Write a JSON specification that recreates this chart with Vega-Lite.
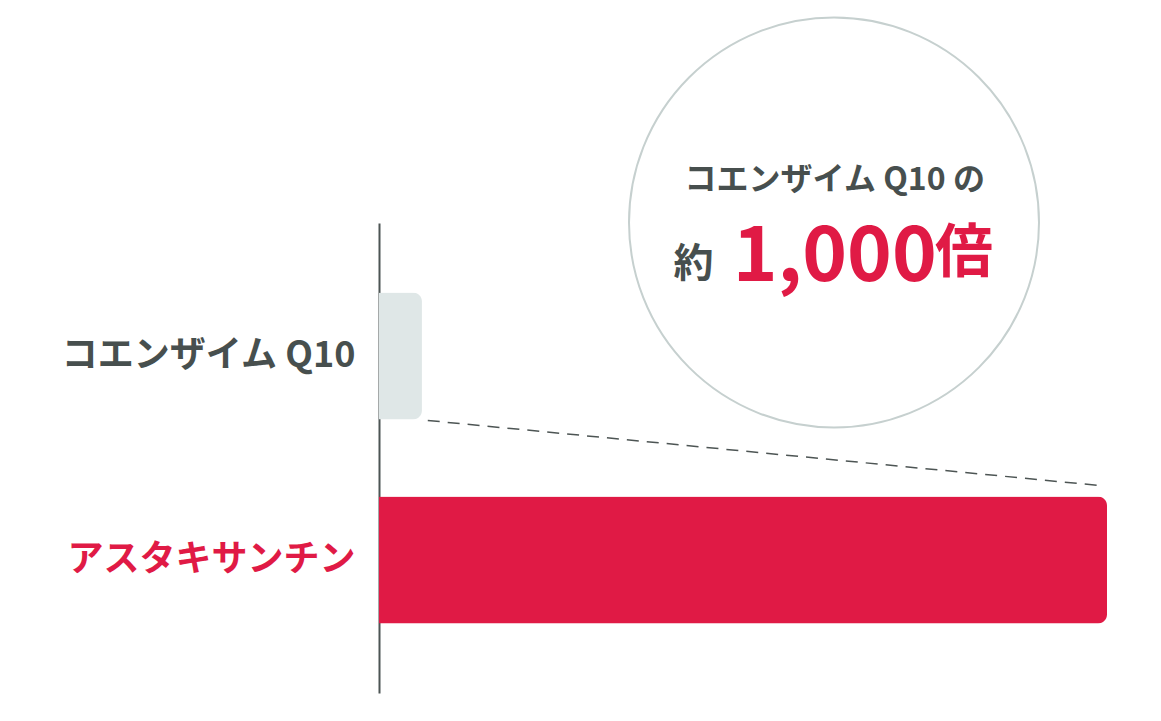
{
  "$schema": "https://vega.github.io/schema/vega-lite/v6.json",
  "width": 728,
  "height": 470,
  "autosize": {"type": "none"},
  "padding": {"left": 379, "top": 223, "right": 54, "bottom": 28},
  "background": "white",
  "config": {"view": {"stroke": null}, "font": "Noto Sans CJK JP"},
  "layer": [
    {
      "data": {"values": [
        {"name": "コエンザイム Q10", "value": 59},
        {"name": "アスタキサンチン", "value": 1000}
      ]},
      "mark": {"type": "bar", "cornerRadiusEnd": 9},
      "encoding": {
        "y": {
          "field": "name", "type": "nominal",
          "scale": {"domain": ["コエンザイム Q10", "アスタキサンチン"], "paddingInner": 0.377, "paddingOuter": 0.34},
          "axis": {
            "title": null, "ticks": false, "grid": false,
            "domainColor": "#4d5554", "domainWidth": 2,
            "labelPadding": 24, "labelFontSize": 36, "labelFont": "Noto Sans CJK JP", "labelFontWeight": "bold",
            "labelLimit": 0,
            "labelColor": {"condition": {"test": "datum.value == 'アスタキサンチン'", "value": "#e01a45"}, "value": "#474f4e"}
          }
        },
        "x": {"field": "value", "type": "quantitative", "scale": {"domain": [0, 1000]}, "axis": null},
        "color": {
          "field": "name", "type": "nominal",
          "scale": {"domain": ["コエンザイム Q10", "アスタキサンチン"], "range": ["#dfe7e7", "#e01a45"]},
          "legend": null
        }
      }
    },
    {
      "data": {"values": [{"from": "コエンザイム Q10", "to": "アスタキサンチン", "start": 67, "end": 990}]},
      "mark": {"type": "rule", "strokeDash": [12, 8], "color": "#4d5554", "strokeWidth": 1.5, "yOffset": 64.5, "y2Offset": -74.5},
      "encoding": {
        "x": {"field": "start", "type": "quantitative"},
        "x2": {"field": "end"},
        "y": {"field": "from", "type": "nominal"},
        "y2": {"field": "to"}
      }
    },
    {
      "data": {"values": [{"cat": "コエンザイム Q10", "pos": 625}]},
      "mark": {"type": "point", "shape": "circle", "filled": false, "size": 168100, "stroke": "#c6d0cf", "strokeWidth": 2, "opacity": 1, "yOffset": -133.5},
      "encoding": {
        "x": {"field": "pos", "type": "quantitative"},
        "y": {"field": "cat", "type": "nominal"}
      }
    },
    {
      "data": {"values": [{"cat": "コエンザイム Q10", "pos": 626, "note": "コエンザイム Q10 の"}]},
      "mark": {"type": "text", "fontSize": 32, "fontWeight": "bold", "color": "#474f4e", "align": "center", "baseline": "middle", "yOffset": -175.5},
      "encoding": {
        "x": {"field": "pos", "type": "quantitative"},
        "y": {"field": "cat", "type": "nominal"},
        "text": {"field": "note"}
      }
    },
    {
      "data": {"values": [{"cat": "コエンザイム Q10", "pos": 432, "note": "約"}]},
      "mark": {"type": "text", "fontSize": 40, "fontWeight": "bold", "color": "#474f4e", "align": "center", "baseline": "middle", "yOffset": -90.5},
      "encoding": {
        "x": {"field": "pos", "type": "quantitative"},
        "y": {"field": "cat", "type": "nominal"},
        "text": {"field": "note"}
      }
    },
    {
      "data": {"values": [{"cat": "コエンザイム Q10", "pos": 626, "note": "1,000"}]},
      "mark": {"type": "text", "fontSize": 76, "fontWeight": "bold", "color": "#e01a45", "align": "center", "baseline": "middle", "yOffset": -98},
      "encoding": {
        "x": {"field": "pos", "type": "quantitative"},
        "y": {"field": "cat", "type": "nominal"},
        "text": {"field": "note"}
      }
    },
    {
      "data": {"values": [{"cat": "コエンザイム Q10", "pos": 803.5, "note": "倍"}]},
      "mark": {"type": "text", "fontSize": 58, "fontWeight": "bold", "color": "#e01a45", "align": "center", "baseline": "middle", "yOffset": -100.5},
      "encoding": {
        "x": {"field": "pos", "type": "quantitative"},
        "y": {"field": "cat", "type": "nominal"},
        "text": {"field": "note"}
      }
    }
  ]
}
